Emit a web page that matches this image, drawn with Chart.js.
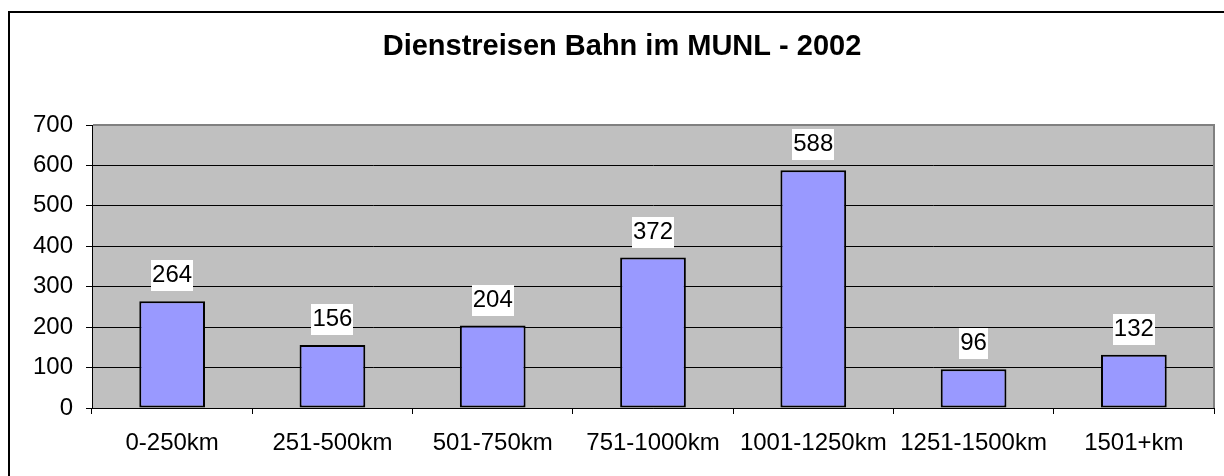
<!DOCTYPE html>
<html lang="de">
<head>
<meta charset="utf-8">
<title>Dienstreisen Bahn im MUNL - 2002</title>
<script src="https://cdn.jsdelivr.net/npm/chart.js@4/dist/chart.umd.min.js"></script>
<style>
  html, body { margin: 0; padding: 0; background: #fff; overflow: hidden; }
  #wrap { width: 1224px; height: 476px; overflow: hidden; }
  canvas { display: block; }
</style>
</head>
<body>
<div id="wrap"><canvas id="chartBahn" width="1244" height="490"></canvas></div>
<script>
/* DATEN */
const titel = 'Dienstreisen Bahn im MUNL - 2002';
const kategorien = ['0-250km', '251-500km', '501-750km', '751-1000km', '1001-1250km', '1251-1500km', '1501+km'];
const reisen = [264, 156, 204, 372, 588, 96, 132];
const yMin = 0;
const yMax = 700;
const ySchritt = 100;

const schrift = "'Liberation Sans', Arial, sans-serif";

/* HINTERGRUND, RAHMEN UND TITEL */
const rahmenPlugin = {
  id: 'rahmen',
  beforeDraw(chart) {
    const { ctx, chartArea: a } = chart;
    ctx.save();
    ctx.fillStyle = '#fff';
    ctx.fillRect(0, 0, chart.width, chart.height);
    ctx.fillStyle = '#000';
    ctx.fillRect(8, 11, 2, chart.height);
    ctx.fillRect(8, 11, chart.width, 2);
    ctx.fillStyle = '#c0c0c0';
    ctx.fillRect(a.left, a.top, a.right - a.left, a.bottom - a.top);
    ctx.font = `bold 29px ${schrift}`;
    ctx.fillStyle = '#000';
    ctx.textAlign = 'center';
    ctx.textBaseline = 'middle';
    ctx.fillText(titel, chart.width / 2, 47);
    ctx.restore();
  },
  afterDraw(chart) {
    const { ctx, chartArea: a } = chart;
    ctx.save();
    ctx.fillStyle = '#808080';
    ctx.fillRect(a.left + 1, a.top - 1, a.right - a.left, 2);
    ctx.fillRect(a.right - 1, a.top - 1, 2, a.bottom - a.top + 1);
    ctx.restore();
  },
};

/* WERTE UEBER DEN SAEULEN */
const wertePlugin = {
  id: 'werte',
  afterDatasetsDraw(chart) {
    const { ctx } = chart;
    const meta = chart.getDatasetMeta(0);
    ctx.save();
    ctx.font = `24px ${schrift}`;
    ctx.textAlign = 'center';
    ctx.textBaseline = 'alphabetic';
    meta.data.forEach((bar, i) => {
      const text = String(reisen[i]);
      const w = ctx.measureText(text).width + 2;
      const h = 31;
      const boxTop = bar.y - 10 - h;
      ctx.fillStyle = '#fff';
      ctx.fillRect(Math.round(bar.x - w / 2), Math.round(boxTop), Math.round(w), h);
      ctx.fillStyle = '#000';
      ctx.fillText(text, bar.x, Math.round(boxTop) + 22);
    });
    ctx.restore();
  },
};

/* DIAGRAMM */
const ctxBahn = document.getElementById('chartBahn').getContext('2d');

new Chart(ctxBahn, {
  type: 'bar',
  data: {
    labels: kategorien,
    datasets: [
      {
        label: 'Dienstreisen',
        data: reisen,
        backgroundColor: '#9999ff',
        borderColor: '#000',
        borderWidth: 2,
        borderSkipped: false,
        barPercentage: 0.41,
        categoryPercentage: 1,
      },
    ],
  },
  options: {
    responsive: false,
    animation: false,
    devicePixelRatio: 1,
    layout: { padding: { left: 0, top: 125, right: 30, bottom: 0 } },
    plugins: {
      legend: { display: false },
      title: { display: false },
      tooltip: { enabled: false },
    },
    scales: {
      x: {
        offset: true,
        grid: {
          drawOnChartArea: false,
          drawTicks: true,
          tickLength: 6,
          tickColor: '#000',
          offset: true,
        },
        border: { color: '#000', width: 1 },
        ticks: {
          color: '#000',
          font: { family: schrift, size: 24 },
          padding: 15,
          maxRotation: 0,
          autoSkip: false,
        },
        afterFit(scale) {
          scale.height = 82;
          scale.paddingLeft = 0;
          scale.paddingRight = 0;
        },
      },
      y: {
        min: yMin,
        max: yMax,
        grid: {
          color: c => (c.tick && c.tick.value === yMax ? 'rgba(0,0,0,0)' : '#000'),
          lineWidth: 1,
          drawTicks: true,
          tickLength: 6,
          tickColor: '#000',
        },
        border: { color: '#000', width: 1 },
        ticks: {
          stepSize: ySchritt,
          color: '#000',
          font: { family: schrift, size: 24 },
          padding: 13,
        },
        afterFit(scale) {
          scale.width = 92;
          scale.paddingTop = 0;
          scale.paddingBottom = 0;
        },
      },
    },
  },
  plugins: [rahmenPlugin, wertePlugin],
});
</script>
</body>
</html>
